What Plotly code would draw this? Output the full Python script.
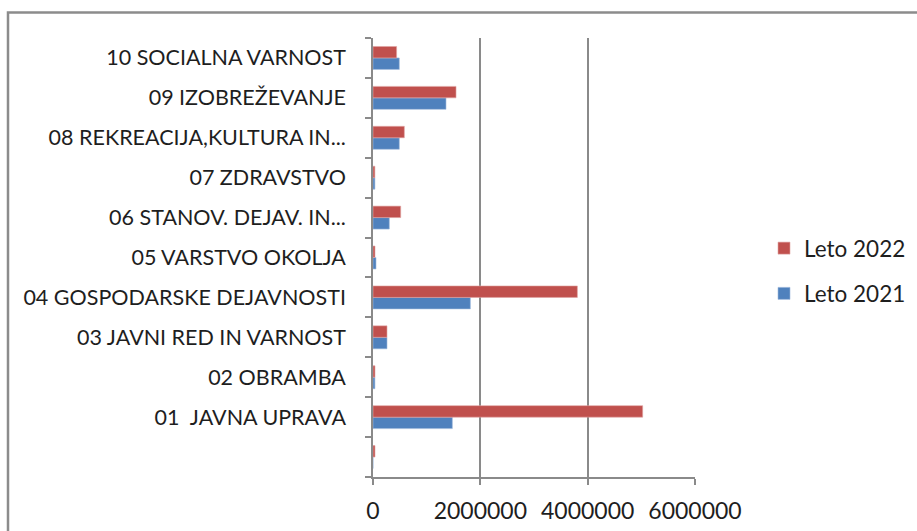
import plotly.graph_objects as go

categories = [
    " ",
    "01\u00a0 JAVNA UPRAVA",
    "02 OBRAMBA",
    "03 JAVNI RED IN VARNOST",
    "04 GOSPODARSKE DEJAVNOSTI",
    "05 VARSTVO OKOLJA",
    "06 STANOV. DEJAV. IN...",
    "07 ZDRAVSTVO",
    "08 REKREACIJA,KULTURA IN...",
    "09 IZOBREŽEVANJE",
    "10 SOCIALNA VARNOST",
]
leto_2021 = [0, 1478000, 35000, 261000, 1814000, 56000, 304000, 35000, 490000, 1360000, 490000]
leto_2022 = [37000, 5025000, 37000, 261000, 3808000, 37000, 516000, 35000, 584000, 1547000, 440000]
x_ticks = [0, 2000000, 4000000, 6000000]
x_tick_labels = ["0", "2000000", "4000000", "6000000"]

W, H = 917, 531
L, R, T, B = 373, 695, 38, 477
pw, ph = R - L, B - T

def px_x(p):
    return (p - L) / pw

def px_y(p):
    return (B - p) / ph

FONT = "Lato"
fig = go.Figure()
fig.add_trace(go.Bar(
    y=categories, x=leto_2021, orientation="h", name="Leto 2021",
    marker=dict(color="#4F81BD", line=dict(color="#9DB9DC", width=0.6)),
    legendgroup="a", legendrank=2,
))
fig.add_trace(go.Bar(
    y=categories, x=leto_2022, orientation="h", name="Leto 2022",
    marker=dict(color="#C0504D", line=dict(color="#E0A5A3", width=0.6)),
    legendgroup="b", legendrank=1,
))

fig.update_layout(
    width=W, height=H,
    margin=dict(l=L, r=W - R, t=T, b=H - B, pad=0, autoexpand=False),
    paper_bgcolor="white", plot_bgcolor="white",
    barmode="group", bargap=0.425, bargroupgap=0,
    font=dict(family=FONT, size=21, color="#1e1e1e"),
    legend=dict(
        x=px_x(764), xanchor="left", y=px_y(271), yanchor="middle",
        traceorder="grouped", tracegroupgap=13,
        font=dict(family=FONT, size=22.5, color="#1e1e1e"),
        bgcolor="rgba(0,0,0,0)",
    ),
    xaxis=dict(
        range=[0, 6000000], tickvals=x_ticks, ticktext=x_tick_labels,
        showgrid=True, gridcolor="#8a8a8a", gridwidth=1.5,
        showline=True, linecolor="#8a8a8a", linewidth=1.5,
        ticks="outside", ticklen=6, tickcolor="#8a8a8a", tickwidth=1.5,
        zeroline=False, tickfont=dict(family=FONT, size=23),
        ticklabelstandoff=7,
        fixedrange=True,
    ),
    yaxis=dict(
        type="category", categoryorder="array", categoryarray=categories,
        range=[-0.5, 10.5], tickson="boundaries",
        showline=True, linecolor="#8a8a8a", linewidth=1.5,
        ticks="outside", ticklen=6, tickcolor="#8a8a8a", tickwidth=1.5,
        showgrid=False, ticklabelstandoff=21,
        tickfont=dict(family=FONT, size=21.5),
        fixedrange=True,
    ),
    shapes=[dict(
        type="rect", xref="paper", yref="paper",
        x0=px_x(8), x1=px_x(940), y0=px_y(560), y1=px_y(12.5),
        line=dict(color="#8c8c8c", width=2.5), fillcolor="rgba(0,0,0,0)",
        layer="below",
    )],
)

fig.write_html(
    "out.html",
    config={"displayModeBar": False},
    post_script="document.body.style.margin='0';document.body.style.padding='0';",
)
